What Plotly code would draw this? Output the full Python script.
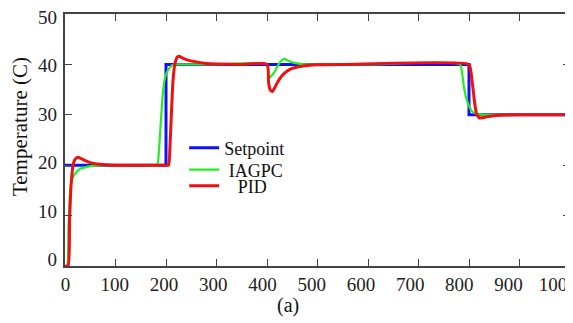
import plotly.graph_objects as go

# ---- data ----
setpoint_t = [0, 200, 200, 800, 800, 1000]
setpoint_v = [20, 20, 40, 40, 30, 30]

iagpc_t = [0, 4, 7, 10, 13, 20, 30, 40, 50, 60, 80, 100, 150, 182, 186, 190, 194, 198, 202,
           207, 213, 225, 240, 300, 400, 402, 405, 410, 415, 420, 425, 430, 435, 440, 450,
           460, 475, 500, 600, 782, 786, 790, 794, 798, 802, 806, 812, 820, 840, 1000]
iagpc_v = [0, 0, 8, 14.5, 17, 18.3, 19.3, 19.6, 19.8, 19.9, 20, 20, 20, 20, 23, 29, 34.5, 37.3, 38.5,
           39.3, 39.9, 40, 40, 40, 40, 38, 37.3, 37.9, 38.5, 39.5, 40.3, 40.9, 41.1, 40.8, 40.4,
           40.2, 40, 40, 40, 40, 38.5, 35.5, 33.5, 32.3, 31.3, 30.7, 30.3, 30.1, 30, 30]

pid_t = [0, 6, 9, 12, 16, 20, 26, 32, 40, 50, 60, 80, 100, 200, 205, 208, 211, 214, 218, 222,
         226, 232, 242, 260, 280, 300, 350, 400, 403, 406, 410, 415, 420, 430, 440, 450, 460,
         480, 500, 550, 800, 803, 807, 811, 815, 820, 826, 835, 850, 870, 900, 1000]
pid_v = [0, 0, 9, 16, 20, 21.2, 21.6, 21.3, 20.9, 20.5, 20.3, 20.1, 20, 20, 20, 24, 31, 37, 40.3, 41.4,
         41.6, 41.3, 40.9, 40.5, 40.2, 40.1, 40, 40, 36.5, 35, 34.6, 35.3, 36.3, 37.8, 38.7, 39.2, 39.5,
         39.8, 39.95, 40, 40, 39, 36, 32.5, 30.2, 29.4, 29.4, 29.6, 29.8, 29.95, 30, 30]

x_ticks = list(range(0, 1001, 100))
y_ticks = list(range(0, 51, 10))

FONT = "Liberation Serif"

fig = go.Figure()
fig.add_trace(go.Scatter(x=setpoint_t, y=setpoint_v, mode="lines", name="Setpoint",
                         line=dict(color="#1010f0", width=3), legend="legend"))
fig.add_trace(go.Scatter(x=iagpc_t, y=iagpc_v, mode="lines", name="\u00a0IAGPC",
                         line=dict(color="#22ee22", width=2.2, shape="spline", smoothing=0.6),
                         legend="legend2"))
fig.add_trace(go.Scatter(x=pid_t, y=pid_v, mode="lines", name="\u00a0\u00a0\u00a0PID",
                         line=dict(color="#f01010", width=3, shape="spline", smoothing=0.6),
                         legend="legend3"))
# empty trace that carries the tick-label axes (labels in the original sit slightly off the ticks)
fig.add_trace(go.Scatter(x=[], y=[], xaxis="x2", yaxis="y2", showlegend=False, hoverinfo="skip"))

leg_common = dict(xanchor="left", yanchor="middle", bgcolor="rgba(0,0,0,0)",
                  font=dict(family=FONT, size=18, color="#111"), borderwidth=0)

tick_style = dict(ticks="inside", ticklen=7, tickwidth=1.3, tickcolor="#444", showline=True,
                  linecolor="#444", linewidth=1.5, mirror="ticks", showgrid=False,
                  zeroline=False, showticklabels=False, automargin=False)
label_style = dict(ticks="", showline=False, showgrid=False, zeroline=False,
                   ticklabeloverflow="allow", automargin=False,
                   tickfont=dict(family=FONT, size=19, color="#222"))

# page body has an 8px margin, so the figure is 8px smaller on each axis
fig.update_layout(
    width=565, height=315,
    margin=dict(l=57, r=3, t=6, b=57),
    font=dict(family=FONT),
    plot_bgcolor="white", paper_bgcolor="white",
    showlegend=True,
    legend=dict(x=0.236, y=0.468, **leg_common),
    legend2=dict(x=0.236, y=0.381, **leg_common),
    legend3=dict(x=0.236, y=0.317, **leg_common),
    xaxis=dict(range=[0, 1000], tickvals=x_ticks, **tick_style),
    yaxis=dict(range=[0, 50], tickvals=y_ticks, **tick_style),
    xaxis2=dict(range=[-1, 1024.7], overlaying="x", anchor="y2", side="bottom",
                tickvals=x_ticks, ticklabelstandoff=5, **label_style),
    yaxis2=dict(range=[-1.384, 50.68], overlaying="y", anchor="x2", side="left",
                tickvals=y_ticks, ticklabelstandoff=7, **label_style),
    annotations=[
        dict(text="Temperature (C)", textangle=-90, xref="paper", yref="paper",
             x=(20 - 65) / 506, y=(266 - 127) / 252, xanchor="center", yanchor="middle",
             showarrow=False, font=dict(family=FONT, size=21, color="#111")),
        dict(text="(a)", xref="paper", yref="paper", x=(288 - 65) / 506, y=(266 - 305) / 252,
             xanchor="center", yanchor="middle", showarrow=False,
             font=dict(family=FONT, size=20, color="#111")),
    ],
)

fig.write_html("out.html")
